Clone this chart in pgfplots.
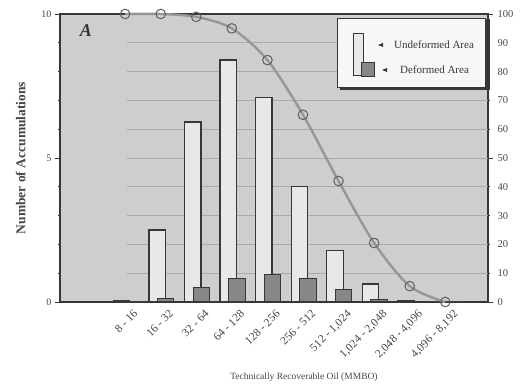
\documentclass[border=0pt]{standalone}
\usepackage{fontspec}
\setmainfont{Liberation Serif}
\usepackage{pgfplots}
\pgfplotsset{compat=1.18}
\definecolor{bgc}{RGB}{206,206,206}
\definecolor{gridc}{RGB}{170,170,170}
\definecolor{undef}{RGB}{232,232,232}
\definecolor{defc}{RGB}{135,135,135}
\definecolor{edgec}{RGB}{55,55,55}
\definecolor{curvec}{RGB}{150,150,150}
\definecolor{txtc}{RGB}{70,70,70}
\begin{document}
\begin{tikzpicture}[x=1pt,y=1pt]
\useasboundingbox (-60,-86) rectangle (463,302);
\begin{axis}[
  scale only axis, width=428pt, height=288pt,
  xmin=-1.83, xmax=10.2, ymin=0, ymax=10,
  axis background/.style={fill=bgc},
  axis line style={edgec, line width=1.4pt},
  xtick={0,...,9},
  xticklabels={8 - 16, 16 - 32, 32 - 64, 64 - 128, 128 - 256, 256 - 512, {512 - 1,024}, {1,024 - 2,048}, {2,048 - 4,096}, {4,096 - 8,192}},
  xtick style={draw=none},
  xticklabel style={rotate=45, anchor=north east, font=\fontsize{11.5}{13}\selectfont, text=txtc, inner sep=1pt, yshift=-6pt, xshift=5pt},
  ytick={0,5,10}, minor ytick={1,2,3,4,6,7,8,9},
  tick align=outside, major tick length=5pt, minor tick length=2pt,
  ytick style={edgec, line width=0.8pt},
  yticklabel style={font=\fontsize{10}{12}\selectfont, text=txtc},
  /pgf/number format/assume math mode=true,
  xlabel={Technically Recoverable Oil (MMBO)},
  xlabel style={at={(axis description cs:0.57,-0.262)}, anchor=center, font=\fontsize{9.5}{11}\selectfont, text=txtc},
  ylabel={\textbf{Number of Accumulations}},
  ylabel style={at={(axis description cs:-0.092,0.5)}, anchor=center, rotate=0, font=\fontsize{13.5}{15}\selectfont, text=txtc},
  bar width=0.46,
]
\foreach \k in {1,...,9} {
  \edef\tmp{\noexpand\draw[gridc, line width=0.7pt] (axis cs:0.05,\k) -- (axis cs:10.2,\k);}
  \tmp
}
\addplot[ybar, bar shift=-0.1, fill=undef, draw=edgec, line width=1.3pt] coordinates {
 (0,0.03) (1,2.5) (2,6.25) (3,8.4) (4,7.1) (5,4.0) (6,1.8) (7,0.62) (8,0.03) (9,0)};
\addplot[ybar, bar shift=0.14, fill=defc, draw=edgec, line width=1.0pt] coordinates {
 (0,0) (1,0.12) (2,0.5) (3,0.8) (4,0.95) (5,0.8) (6,0.45) (7,0.1) (8,0.02) (9,0)};
\end{axis}
\begin{axis}[
  scale only axis, width=428pt, height=288pt,
  xmin=-1.83, xmax=10.2, ymin=0, ymax=100,
  hide x axis,
  axis y line*=right,
  y axis line style={draw=none},
  ytick={0,10,...,100},
  ytick style={draw=none},
  yticklabel style={font=\fontsize{10.5}{12}\selectfont, text=txtc, xshift=6pt},
  /pgf/number format/assume math mode=true,
  clip=false,
]
\addplot[smooth, curvec, line width=2.4pt, mark=o, mark size=4.8pt,
  mark options={draw=edgec!80, line width=1pt, fill=none}] coordinates {
 (0,100) (1,100) (2,99) (3,95) (4,84) (5,65) (6,42) (7,20.5) (8,5.5) (9,0)};
\end{axis}
% panel letter
\node[font=\fontsize{18}{20}\selectfont\bfseries\itshape, text=edgec] at (26,271) {A};
% legend
\fill[edgec] (280,212) rectangle (430,283);
\filldraw[fill=white!94!gray, draw=edgec, line width=0.6pt] (277,215) rectangle (425,284);
\draw[edgec, fill=undef, line width=0.8pt] (293,227) rectangle (303,269);
\draw[edgec, fill=defc, line width=0.6pt] (301,226) rectangle (314,240);
\fill[edgec] (318,257) -- (323,259) -- (323,255) -- cycle;
\fill[edgec] (322,232) -- (327,234) -- (327,230) -- cycle;
\node[anchor=west, font=\fontsize{11}{12}\selectfont, text=edgec, inner sep=0] at (334,257) {Undeformed Area};
\node[anchor=west, font=\fontsize{11}{12}\selectfont, text=edgec, inner sep=0] at (340,232) {Deformed Area};
\end{tikzpicture}
\end{document}
